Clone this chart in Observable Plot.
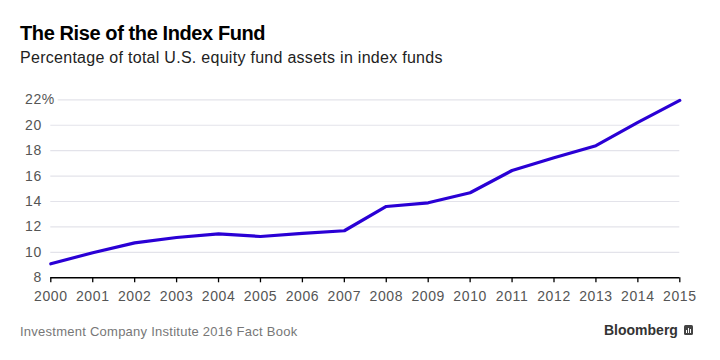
<!DOCTYPE html>
<html><head><meta charset="utf-8">
<script src="https://cdn.jsdelivr.net/npm/d3@7"></script>
<script src="https://cdn.jsdelivr.net/npm/@observablehq/plot@0.6"></script>
<style>
body{margin:0;background:#fff;}
#wrap{position:relative;width:720px;height:360px;font-family:"Liberation Sans",Arial,sans-serif;overflow:hidden;background:#fff}
#title{position:absolute;left:20px;top:23px;font-size:20px;line-height:20px;font-weight:bold;letter-spacing:-0.4px;color:#000;white-space:nowrap}
#subtitle{position:absolute;left:20px;top:50px;font-size:16px;line-height:16px;letter-spacing:0.28px;color:#222;white-space:nowrap}
#chart{position:absolute;left:0;top:80px}
#source{position:absolute;left:20px;top:325px;font-size:13px;line-height:13px;letter-spacing:0.25px;color:#777;white-space:nowrap}
#logo{position:absolute;left:604px;top:323px;font-size:14px;line-height:14px;font-weight:bold;color:#333;white-space:nowrap}
#icon{position:absolute;left:684px;top:325px;width:9px;height:10px;background:#444;border-radius:1.5px}
#icon i{position:absolute;bottom:2px;width:1px;background:#fff}
</style></head>
<body><div id="wrap">
<div id="title">The Rise of the Index Fund</div>
<div id="subtitle">Percentage of total U.S. equity fund assets in index funds</div>
<div id="chart"></div>
<div id="source">Investment Company Institute 2016 Fact Book</div>
<div id="logo">Bloomberg</div>
<div id="icon"><i style="left:2px;height:3px"></i><i style="left:4px;height:5px"></i><i style="left:6px;height:4px"></i></div>
</div>
<script>
const years = [2000,2001,2002,2003,2004,2005,2006,2007,2008,2009,2010,2011,2012,2013,2014,2015];
const shares = [9.10,9.97,10.75,11.17,11.46,11.25,11.49,11.70,13.61,13.90,14.69,16.44,17.44,18.39,20.22,21.95];
const yTicks = [8,10,12,14,16,18,20,22];
const xTicks = years;
const data = years.map((year,i)=>({year, share: shares[i]}));

const chart = Plot.plot({
  width: 720, height: 230,
  marginTop: 19.3, marginBottom: 32.7, marginLeft: 50.3, marginRight: 40.7,
  x: {domain: [2000, 2015]},
  y: {domain: [8, 22]},
  style: {fontFamily: '"Liberation Sans", Arial, sans-serif', fontSize: "14px", color: "#555", background: "transparent", letterSpacing: "0.6px", overflow: "visible"},
  marks: [
    Plot.ruleY(yTicks.filter(d => d > 8), {stroke: "#e3e3ea", strokeWidth: 1.2}),
    Plot.text([22], {x: () => 2000, y: d => d, text: () => "%", textAnchor: "start", dx: -9, fill: "#555", stroke: "white", strokeWidth: 8, fontSize: 14}),
    Plot.axisY({ticks: yTicks, tickSize: 0, tickPadding: 9, tickFormat: d => String(d), fill: "#555", fontSize: 14, label: null}),
    Plot.axisX({ticks: xTicks, tickSize: 5, tickPadding: 8, tickFormat: d => String(d), stroke: "#000", strokeWidth: 1.3, fill: "#555", fontSize: 14, label: null}),
    Plot.ruleY([8], {stroke: "#000", strokeWidth: 1.5}),
    Plot.line(data, {x: "year", y: "share", stroke: "#2a00d5", strokeWidth: 3.2, strokeLinejoin: "round"})
  ]
});
document.getElementById("chart").append(chart);
</script>
</body></html>
